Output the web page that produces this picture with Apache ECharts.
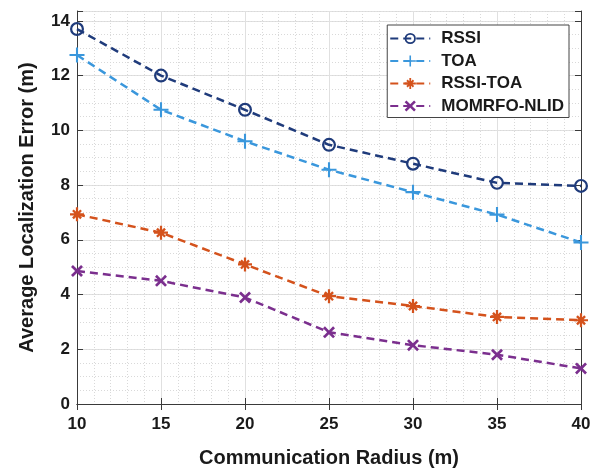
<!DOCTYPE html>
<html>
<head>
<meta charset="utf-8">
<script src="https://cdn.jsdelivr.net/npm/echarts@6/dist/echarts.min.js"></script>
<style>
  html, body { margin: 0; padding: 0; background: #fff; }
  #chart { width: 590px; height: 471px; }
</style>
</head>
<body>
<div id="chart"></div>
<script>
// communication radius (m)
var radius = [10, 15, 20, 25, 30, 35, 40];
var names = ['RSSI', 'TOA', 'RSSI-TOA', 'MOMRFO-NLID'];
// average localization error (m)
var rssi = [13.7, 12.0, 10.75, 9.47, 8.78, 8.08, 7.97];
var toa = [12.75, 10.75, 9.6, 8.56, 7.74, 6.92, 5.9];
var rssi_toa = [6.93, 6.26, 5.1, 3.94, 3.58, 3.18, 3.06];
var momrfo = [4.86, 4.5, 3.89, 2.62, 2.15, 1.8, 1.3];
var yTop = 14.36;

var colors = ['#1f3b7b', '#3a97dc', '#d4521c', '#7b2f8e'];

// marker shapes (matlab style o + * x)
var ring = 'path://M5,0 A5,5 0 1,1 5,10 A5,5 0 1,1 5,0 Z M5,1.6 A3.4,3.4 0 1,0 5,8.4 A3.4,3.4 0 1,0 5,1.6 Z';
var plus = 'path://M4.3,0 H5.7 V4.3 H10 V5.7 H5.7 V10 H4.3 V5.7 H0 V4.3 H4.3 Z';
var star = 'path://M4.2,0 H5.8 V4.2 H10 V5.8 H5.8 V10 H4.2 V5.8 H0 V4.2 H4.2 Z ' +
    'M1.5,2.7 L2.7,1.5 L5,3.8 L7.3,1.5 L8.5,2.7 L6.2,5 L8.5,7.3 L7.3,8.5 L5,6.2 L2.7,8.5 L1.5,7.3 L3.8,5 Z';
var cross = 'path://M0,1.6 L1.6,0 L5,3.4 L8.4,0 L10,1.6 L6.6,5 L10,8.4 L8.4,10 L5,6.6 L1.6,10 L0,8.4 L3.4,5 Z';

function pairs(ys) {
    var out = [];
    for (var i = 0; i < radius.length; i++) out.push([radius[i], ys[i]]);
    return out;
}

function line(idx, ys, symbol, size) {
    return {
        name: names[idx],
        type: 'line',
        data: pairs(ys),
        symbol: symbol,
        symbolSize: size,
        showAllSymbol: true,
        clip: false,
        lineStyle: { color: colors[idx], width: 2.5, type: [8, 5] },
        itemStyle: { color: colors[idx] },
        emphasis: { disabled: true }
    };
}

var axisColor = '#3a3a3a';
var labelFont = { fontFamily: 'Liberation Sans', fontWeight: 'bold', fontSize: 17, color: '#1a1a1a' };
var minorGrid = { color: '#d9d9d9', width: 1, type: [1, 2] };

var chart = echarts.init(document.getElementById('chart'), null, { renderer: 'canvas' });
var option = {
    backgroundColor: '#fff',
    animation: false,
    grid: { left: 77, right: 9, top: 11, bottom: 67, outerBoundsMode: 'none' },
    legend: {
        data: names,
        orient: 'vertical',
        right: 21,
        top: 25,
        itemWidth: 40,
        itemHeight: 14,
        itemGap: 5.5,
        padding: [5, 5, 3, 2],
        borderColor: '#444',
        borderWidth: 1,
        backgroundColor: '#fff',
        textStyle: Object.assign({ padding: [0, 0, 0, 6] }, labelFont)
    },
    xAxis: [{
        type: 'value', min: 10, max: 40, interval: 5, position: 'bottom',
        name: 'Communication Radius (m)', nameLocation: 'middle', nameGap: 44,
        nameTextStyle: { fontFamily: 'Liberation Sans', fontWeight: 'bold', fontSize: 20, color: '#1a1a1a' },
        axisLine: { lineStyle: { color: axisColor, width: 1 } },
        axisTick: { inside: true, length: 6, lineStyle: { color: axisColor } },
        axisLabel: Object.assign({ margin: 12 }, labelFont),
        splitLine: { show: true, lineStyle: { color: '#e0e0e0', width: 1 } },
        minorTick: { show: false, splitNumber: 5 },
        minorSplitLine: { show: true, lineStyle: minorGrid }
    }, {
        type: 'value', min: 10, max: 40, interval: 5, position: 'top',
        axisLine: { lineStyle: { color: axisColor, width: 1 } },
        axisTick: { inside: true, length: 6, lineStyle: { color: axisColor } },
        axisLabel: { show: false },
        splitLine: { show: false }
    }],
    yAxis: [{
        type: 'value', min: 0, max: yTop, interval: 2, position: 'left',
        name: 'Average Localization Error (m)', nameLocation: 'middle', nameGap: 40,
        nameTextStyle: { fontFamily: 'Liberation Sans', fontWeight: 'bold', fontSize: 20, color: '#1a1a1a' },
        axisLine: { show: true, lineStyle: { color: axisColor, width: 1 } },
        axisTick: { show: true, inside: true, length: 6, lineStyle: { color: axisColor } },
        axisLabel: Object.assign({
            margin: 7,
            formatter: function (v) { return v % 2 === 0 ? String(v) : ''; }
        }, labelFont),
        splitLine: { show: true, lineStyle: { color: '#e0e0e0', width: 1 } }
    }, {
        // minor dotted grid every 0.5
        type: 'value', min: 0, max: yTop, interval: 0.5, position: 'left',
        axisLine: { show: false }, axisTick: { show: false }, axisLabel: { show: false },
        splitLine: { show: true, lineStyle: minorGrid },
        z: 0
    }, {
        type: 'value', min: 0, max: yTop, interval: 2, position: 'right',
        axisLine: { show: true, lineStyle: { color: axisColor, width: 1 } },
        axisTick: { show: true, inside: true, length: 6, lineStyle: { color: axisColor } },
        axisLabel: { show: false },
        splitLine: { show: false }
    }],
    series: [
        line(0, rssi, ring, 14),
        line(1, toa, plus, 15),
        line(2, rssi_toa, star, 14),
        line(3, momrfo, cross, 12)
    ]
};
chart.setOption(option);
</script>
</body>
</html>
